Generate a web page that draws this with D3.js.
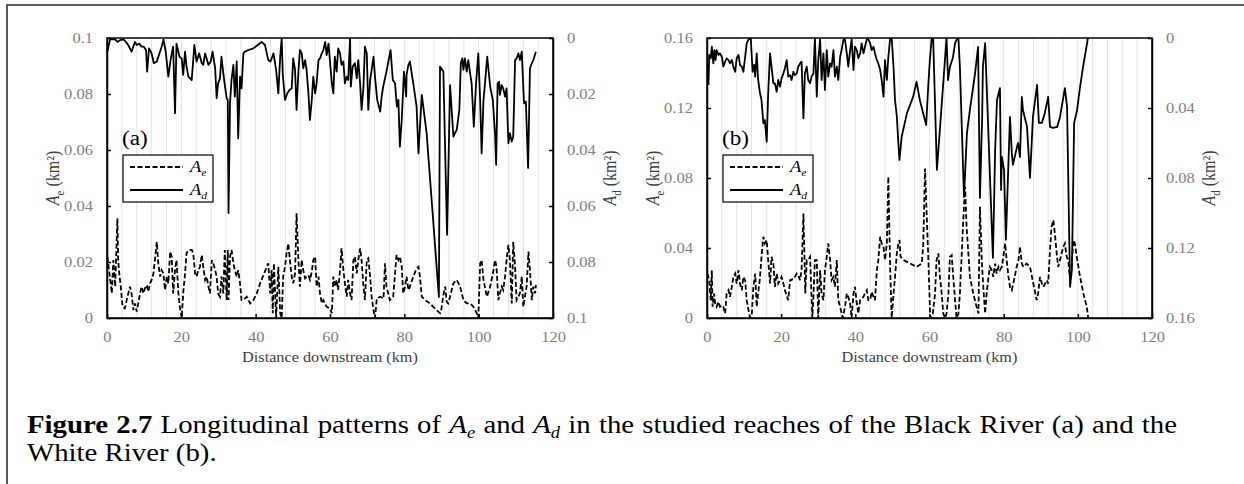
<!DOCTYPE html>
<html>
<head>
<meta charset="utf-8">
<script src="https://cdn.jsdelivr.net/npm/d3@7"></script>
<style>
  body { margin: 0; background: #fff; }
  svg { display: block; font-family: "Liberation Serif", "Times New Roman", serif; }
</style>
</head>
<body>
<svg id="fig" width="1244" height="484"></svg>
<script>
// Distance axis (km)
const distanceTicks = [0, 20, 40, 60, 80, 100, 120];

// Area axes (km²)
const blackTicks = [0, 0.02, 0.04, 0.06, 0.08, 0.1];
const blackTickLabels = ["0", "0.02", "0.04", "0.06", "0.08", "0.1"];
const whiteTicks = [0, 0.04, 0.08, 0.12, 0.16];
const whiteTickLabels = ["0", "0.04", "0.08", "0.12", "0.16"];

// Black River: [distance km, A_e km²]
const blackAe = [
  [0.1,.0219],[1.3,.0088],[1.7,.0207],[2.2,.0112],[2.8,.0356],[3.0,.0207],[3.3,.0159],[3.7,.0112],[4.2,.0040],[4.8,.0034],
  [5.5,.0076],[6.2,.0112],[6.6,.0088],[7.1,.0028],[7.5,.0052],[8.0,.0023],[8.4,.0052],[8.9,.0088],[9.3,.0112],[9.8,.0088],
  [10.2,.0106],[10.7,.0118],[11.1,.0094],[11.6,.0124],[12.0,.0136],[12.5,.0159],[12.9,.0207],[13.4,.0272],[13.8,.0195],[14.3,.0148],
  [14.7,.0171],[15.2,.0159],[15.6,.0100],[16.1,.0148],[16.5,.0124],[17.0,.0237],[17.4,.0219],[17.8,.0088],[18.3,.0171],[18.7,.0207],
  [19.2,.0088],[19.6,.0040],[20.1,0],[20.5,.0088],[21.0,.0159],[21.4,.0231],[21.9,.0243],[22.8,.0243],[23.2,.0231],[23.7,.0159],
  [24.1,.0148],[24.6,.0171],[25.0,.0183],[25.5,.0225],[25.9,.0183],[26.4,.0136],[26.8,.0148],[27.3,.0112],[27.7,.0088],[28.2,.0207],
  [28.6,.0195],[29.1,.0171],[29.5,.0148],[29.9,.0088],[30.4,.0076],[30.8,.0148],[31.3,.0088],[31.7,.0243],[32.2,.0064],[32.5,.0243],
  [32.7,.0064],[33.1,.0219],[33.5,.0243],[34.0,.0195],[34.4,.0171],[34.9,.0148],[35.3,.0171],[35.8,.0124],[36.2,.0064],[36.7,.0064],
  [37.6,.0076],[38.5,.0052],[39.4,.0064],[40.3,.0088],[41.2,.0124],[42.1,.0153],[43.0,.0183],[43.4,.0195],[43.9,.0088],[44.3,.0171],
  [44.6,.0017],[44.9,.0195],[45.5,0],[46.1,.0183],[46.6,.0017],[47.0,0],[47.4,.0148],[47.9,.0183],[48.3,.0231],[48.8,.0266],
  [49.2,.0207],[49.7,.0148],[50.1,.0124],[50.6,.0159],[51.0,.0374],[51.5,.0207],[51.9,.0112],[52.4,.0207],[52.8,.0171],[53.3,.0142],
  [53.7,.0148],[54.2,.0153],[54.6,.0136],[55.1,.0165],[55.5,.0207],[56.0,.0219],[56.4,.0112],[56.9,.0148],[57.3,.0088],[57.8,.0052],
  [58.2,.0064],[59.1,.0040],[60.0,.0034],[60.5,.0017],[60.9,.0148],[61.3,.0112],[61.8,.0136],[62.2,.0100],[62.7,.0171],[63.1,.0249],
  [63.6,.0171],[64.0,.0124],[64.5,.0076],[64.9,.0136],[65.4,.0088],[65.8,.0064],[66.3,.0207],[66.7,.0219],[67.2,.0159],[67.6,.0207],
  [68.1,.0249],[68.5,.0207],[69.0,.0112],[69.4,.0064],[69.9,.0207],[70.3,.0213],[70.8,.0148],[71.2,.0076],[71.7,.0028],[72.1,0],
  [72.6,.0070],[73.5,.0076],[74.4,.0070],[74.8,.0195],[75.2,.0112],[76.1,.0064],[77.0,.0076],[77.9,.0225],[78.4,.0207],[78.8,.0219],
  [79.3,.0183],[79.7,.0088],[80.2,.0112],[80.6,.0148],[81.1,.0100],[81.5,.0112],[82.4,.0148],[83.3,.0177],[83.8,.0183],[84.2,.0148],
  [84.7,.0076],[85.6,.0064],[86.9,.0052],[87.8,.0040],[88.7,.0028],[89.6,.0017],[90.0,.0034],[90.5,.0082],[91.0,.0112],[91.4,.0058],
  [91.8,.0052],[92.3,.0076],[93.2,.0124],[94.1,.0136],[95.0,.0112],[95.9,.0064],[96.8,.0052],[97.7,.0052],[98.6,.0040],[99.5,.0017],
  [99.9,0],[100.4,.0195],[100.8,.0207],[101.3,.0136],[102.2,.0076],[103.1,.0112],[104.0,.0171],[104.4,.0207],[104.8,.0183],[105.3,.0064],
  [105.7,.0088],[106.2,.0112],[106.6,.0100],[107.1,.0148],[107.5,.0207],[108.0,.0261],[108.4,.0207],[108.9,.0052],[109.3,.0272],[109.8,.0183],
  [110.2,.0064],[111.1,.0088],[111.6,.0148],[112.0,.0040],[112.9,.0112],[113.4,.0237],[113.8,.0171],[114.3,.0064],[114.7,.0112],[115.2,.0088],
  [115.4,.0118]
];

// Black River: [distance km, A_d km²]
const blackAd = [
  [0.1,.0049],[0.8,.0005],[2.2,.0005],[2.8,.0014],[3.5,.0008],[4.4,.0005],[5.1,.0014],[5.7,.0025],[6.6,.0049],[7.5,.0014],
  [8.0,.0025],[8.7,.0020],[9.3,.0031],[9.9,.0031],[10.5,.0043],[10.8,.0120],[11.3,.0037],[12.0,.0055],[12.6,.0090],[13.4,.0084],
  [14.1,.0055],[14.7,.0031],[15.2,.0005],[15.8,.0049],[16.5,.0138],[17.1,.0079],[17.8,.0031],[18.3,.0269],[18.7,.0020],[19.5,.0067],
  [20.1,.0073],[20.5,.0132],[21.0,.0049],[21.4,.0102],[21.9,.0138],[22.8,.0150],[23.5,.0025],[24.1,.0084],[24.8,.0055],[25.5,.0090],
  [25.9,.0096],[26.4,.0055],[26.8,.0073],[27.3,.0096],[27.9,.0084],[28.4,.0049],[29.1,.0108],[29.5,.0215],[29.9,.0162],[30.4,.0144],
  [30.8,.0067],[31.3,.0126],[31.7,.0168],[32.2,.0215],[32.5,.0221],[32.7,.0625],[33.1,.0233],[33.5,.0150],[34.0,.0096],[34.4,.0209],
  [34.9,.0084],[35.3,.0358],[35.8,.0138],[36.2,.0180],[36.7,.0055],[37.1,.0049],[38.0,.0043],[39.4,.0037],[41.6,.0014],[42.5,.0025],
  [43.4,.0079],[44.0,.0084],[44.8,.0055],[45.5,.0114],[46.1,.0198],[46.6,.0067],[47.0,0],[47.3,.0132],[47.9,.0221],[48.5,.0198],
  [49.1,.0186],[49.7,.0180],[50.1,.0073],[50.6,.0114],[51.0,.0257],[51.5,.0120],[51.9,.0043],[52.4,.0055],[52.8,.0108],[53.3,.0079],
  [53.7,.0114],[54.2,.0198],[54.6,.0293],[55.1,.0221],[55.5,.0138],[56.0,.0198],[56.4,.0162],[56.9,.0079],[57.3,.0073],[57.8,.0055],
  [58.2,.0043],[58.7,.0014],[59.1,.0061],[59.6,.0020],[60.0,.0084],[60.5,.0162],[60.9,.0198],[61.3,.0067],[61.8,.0120],[62.2,.0037],
  [62.7,.0055],[63.1,.0096],[63.6,.0084],[64.0,.0162],[64.5,.0138],[64.9,.0150],[65.4,0],[65.6,.0174],[66.1,.0102],[66.7,.0090],
  [67.2,.0144],[67.6,.0079],[68.1,.0162],[68.5,.0257],[69.0,.0174],[69.4,.0031],[69.9,.0055],[70.3,.0257],[70.8,.0150],[71.2,.0114],
  [71.7,.0067],[72.1,.0138],[72.7,.0221],[73.5,.0263],[73.9,.0209],[74.3,.0174],[75.1,.0126],[75.7,.0084],[76.3,.0043],[76.9,.0150],
  [77.5,.0162],[78.0,.0245],[78.4,.0221],[78.8,.0388],[79.3,.0293],[79.9,.0120],[80.5,.0209],[80.6,.0132],[81.1,.0096],[81.5,.0084],
  [82.4,.0162],[83.3,.0245],[83.8,.0412],[84.7,.0203],[86.0,.0340],[89.3,.0925],[89.6,.0102],[90.5,.0120],[91.5,.0703],[92.3,.0168],
  [93.2,.0352],[93.6,.0340],[94.1,.0328],[94.8,.0257],[95.2,.0090],[95.6,.0073],[95.9,.0114],[96.3,.0073],[96.8,.0120],[97.2,.0079],
  [97.7,.0126],[98.1,.0162],[98.7,.0317],[99.3,.0162],[99.9,.0055],[100.4,.0221],[100.8,.0412],[101.3,.0221],[101.7,.0162],[102.3,.0067],
  [103.1,.0174],[103.8,.0221],[104.4,.0340],[104.7,.0453],[105.1,.0162],[105.5,.0156],[105.7,.0203],[106.2,.0168],[106.6,.0180],[107.1,.0209],
  [107.5,.0180],[108.0,.0376],[108.4,.0340],[108.9,.0370],[109.3,.0352],[109.8,.0079],[110.2,.0073],[110.7,.0055],[111.1,.0079],[111.6,.0049],
  [112.2,.0233],[112.7,.0227],[113.3,.0464],[113.8,.0108],[114.3,.0090],[114.7,.0079],[115.4,.0049]
];

// White River: [distance km, A_e km²]
const whiteAe = [
  [0.1,.0254],[0.6,.0216],[1.0,.0102],[1.3,.0273],[1.5,.0064],[1.9,.0140],[2.2,.0083],[2.6,.0064],[3.1,.0092],[3.5,.0064],
  [4.0,.0073],[4.4,.0064],[4.9,.0026],[5.3,.0140],[5.8,.0159],[6.2,.0121],[6.7,.0178],[7.1,.0235],[7.6,.0254],[8.0,.0197],
  [8.5,.0273],[8.9,.0197],[9.4,.0159],[9.8,.0235],[10.3,.0216],[10.7,.0102],[11.2,.0045],[11.6,0],[12.1,.0026],[12.5,.0178],
  [13.0,.0254],[13.4,.0064],[13.8,.0140],[14.3,.0235],[14.7,.0350],[15.2,.0464],[15.6,.0426],[16.1,.0445],[16.5,.0331],[17.0,.0197],
  [17.4,.0350],[17.9,.0311],[18.3,.0178],[18.8,.0254],[19.2,.0197],[19.7,.0216],[20.1,.0235],[20.6,.0197],[21.0,.0159],[21.9,.0102],
  [22.4,.0216],[22.8,.0216],[23.3,.0235],[23.7,.0235],[24.2,.0254],[24.6,.0245],[25.1,.0216],[25.5,.0273],[26.0,.0597],[26.3,.0331],
  [26.5,.0140],[26.9,.0331],[27.3,.0331],[27.8,.0350],[28.4,0],[28.7,.0121],[29.1,.0331],[29.6,.0331],[30.0,0],[30.5,.0273],
  [30.9,.0140],[31.4,.0102],[31.8,.0273],[32.3,.0350],[32.7,.0426],[33.2,.0331],[33.6,.0216],[34.1,.0235],[34.5,.0178],[35.0,.0331],
  [35.4,.0102],[35.9,.0064],[36.6,0],[37.2,.0064],[37.7,.0140],[38.1,.0121],[38.6,.0083],[39.0,0],[39.5,.0140],[39.9,.0178],
  [40.4,.0083],[40.8,.0026],[41.3,.0102],[42.2,.0121],[42.6,.0140],[43.1,.0159],[43.5,.0102],[44.0,.0102],[44.4,.0149],[44.9,.0121],
  [45.3,.0102],[45.8,.0273],[46.2,.0331],[46.7,.0464],[47.1,.0426],[47.6,.0407],[48.0,.0331],[48.5,.0426],[48.9,.0807],[49.4,.0273],
  [49.8,0],[50.3,.0140],[50.7,.0235],[51.2,.0369],[51.6,.0426],[51.9,.0445],[52.2,.0350],[53.0,.0331],[54.8,.0311],[56.5,.0292],
  [57.9,.0311],[58.3,.0407],[58.8,.0854],[59.2,.0616],[59.7,.0331],[60.2,0],[60.9,.0026],[61.5,.0140],[61.9,.0331],[62.4,.0369],
  [62.8,.0235],[63.3,.0140],[63.7,.0026],[64.2,0],[64.6,.0026],[65.1,.0140],[65.5,.0350],[66.0,.0359],[66.4,.0235],[66.9,.0102],
  [67.3,0],[67.8,.0026],[68.2,.0140],[68.7,.0369],[69.1,.0559],[69.6,.0750],[70.0,.0521],[70.9,.0235],[71.8,.0140],[72.7,.0064],
  [73.2,.0026],[73.6,.0635],[74.1,.0331],[74.5,.0178],[75.0,.0026],[75.4,.0140],[75.9,.0235],[76.3,.0292],[76.8,.0273],[77.2,.0235],
  [77.7,.0311],[78.1,.0254],[78.6,.0292],[79.0,.0273],[79.5,.0292],[79.9,.0350],[80.4,.0426],[80.8,.0331],[81.3,.0235],[81.7,.0178],
  [82.2,.0159],[82.6,.0197],[83.5,.0292],[84.0,.0331],[84.4,.0407],[84.9,.0311],[85.3,.0292],[86.2,.0311],[87.1,.0292],[88.0,.0197],
  [88.9,.0102],[89.3,.0140],[89.8,.0235],[90.3,.0197],[90.7,.0178],[91.6,.0216],[92.0,.0197],[92.5,.0388],[92.9,.0521],[93.4,.0559],
  [93.8,.0483],[94.3,.0369],[94.7,.0292],[95.2,.0331],[95.6,.0369],[96.1,.0407],[96.5,.0426],[97.0,.0350],[97.4,.0331],[97.9,.0216],
  [98.3,.0292],[98.8,.0445],[99.2,.0426],[99.7,.0350],[100.6,.0235],[101.5,.0140],[102.4,.0064],[102.8,0]
];

// White River: [distance km, A_d km²]
const whiteAd = [
  [0.4,.0269],[0.6,.0097],[1.0,.0116],[1.3,.0050],[1.7,.0145],[2.0,.0069],[2.3,.0126],[2.6,.0069],[3.1,.0097],[3.5,.0088],
  [4.0,.0107],[4.4,.0164],[4.9,.0135],[5.3,.0116],[5.8,.0126],[6.2,.0145],[6.7,.0126],[7.1,.0164],[7.6,.0193],[8.0,.0116],
  [8.5,.0097],[8.9,.0154],[9.4,.0164],[9.8,.0193],[10.3,.0107],[10.7,.0031],[11.2,.0008],[11.8,0],[12.3,.0193],[12.7,.0154],
  [13.0,.0221],[13.4,.0088],[13.8,.0240],[14.3,.0316],[14.7,.0355],[15.2,.0488],[15.6,.0469],[16.1,.0593],[16.5,.0316],[17.0,.0088],
  [17.4,.0164],[17.9,.0259],[18.3,.0259],[18.8,.0307],[19.2,.0240],[19.7,.0278],[20.1,.0231],[20.6,.0202],[21.0,.0174],[21.5,.0126],
  [21.9,.0221],[22.4,.0212],[22.8,.0240],[23.3,.0193],[23.7,.0212],[24.2,.0202],[24.6,.0164],[25.1,.0145],[25.5,.0135],[26.0,.0459],
  [26.4,.0202],[26.9,.0164],[27.3,.0240],[27.8,.0259],[28.2,.0221],[28.7,.0202],[29.1,0],[29.6,.0335],[30.0,.0126],[30.5,.0008],
  [30.9,.0240],[31.4,.0088],[31.8,.0297],[32.3,.0069],[32.7,.0221],[33.2,.0145],[33.6,.0164],[34.1,.0069],[34.5,.0221],[35.0,.0164],
  [35.4,.0240],[35.9,.0107],[36.3,.0069],[36.8,.0008],[37.2,.0008],[37.7,.0088],[38.1,.0164],[38.6,.0069],[39.0,.0008],[39.5,.0183],
  [39.9,.0050],[40.4,.0069],[40.8,.0116],[41.3,.0088],[41.7,.0031],[42.2,.0088],[42.6,.0050],[43.1,.0008],[43.5,.0008],[44.0,.0031],
  [44.4,.0069],[44.9,.0050],[45.3,.0088],[45.8,.0126],[46.2,.0145],[46.7,.0183],[47.1,.0240],[47.6,.0335],[48.0,.0126],[48.5,.0240],
  [48.9,.0107],[49.4,0],[49.8,0],[50.3,.0164],[50.7,.0355],[51.2,.0450],[51.6,.0602],[51.9,.0697],[52.5,.0564],[53.9,.0431],
  [55.6,.0335],[56.5,.0250],[57.4,.0355],[58.3,.0431],[59.1,.0497],[59.7,.0259],[60.1,.0126],[60.6,0],[61.0,.0008],[62.0,.0754],
  [64.6,0],[65.0,.0240],[65.5,.0166],[66.3,.0114],[66.9,.0029],[67.4,.0006],[67.8,.0006],[68.2,.0166],[69.3,.0908],[70.1,.0542],
  [70.9,.0411],[72.3,.0200],[73.1,.0051],[73.6,.0914],[74.2,.0451],[74.4,.0166],[75.0,.0029],[77.1,.1256],[77.7,.0640],[78.2,.0354],
  [79.0,.0286],[79.3,.0868],[79.5,.0680],[80.1,.0754],[80.6,.1153],[81.7,.0451],[82.2,.0657],[82.5,.0725],[83.6,.0622],[83.9,.0600],
  [84.4,.0680],[84.9,.0337],[85.2,.0411],[86.3,.0508],[87.1,.0799],[87.9,.0451],[89.0,.0268],[89.5,.0485],[90.3,.0485],[91.1,.0428],
  [92.0,.0337],[92.5,.0508],[93.3,.0514],[94.4,.0508],[95.2,.0451],[96.5,.0286],[97.1,.0394],[97.9,.1422],[98.4,.1325],[99.0,.0485],
  [99.8,.0411],[100.6,.0280],[101.4,.0166],[102.5,.0029],[102.7,0]
];

// the figure's lettering is set slightly wide
const WIDE = 1.16;

const svg = d3.select("#fig");

// stretch text horizontally about its own x anchor
function widen(sel, s = WIDE) {
  sel.each(function () {
    const t = d3.select(this);
    const x = +(t.attr("x") || 0);
    t.attr("transform", `translate(${x * (1 - s)},0) scale(${s},1)`);
  });
}

// outer figure frame (open to the right and bottom)
svg.append("path")
  .attr("d", "M7,490 V5 H1260")
  .attr("fill", "none")
  .attr("stroke", "#5a5a5a")
  .attr("stroke-width", 2);

function areaTitle(sel, sub) {
  sel.append("tspan").attr("font-style", "italic").text("A");
  sel.append("tspan").attr("font-size", "11px").attr("dy", 4).text(sub);
  sel.append("tspan").attr("dy", -4).text(" (km²)");
}

function drawPanel(o) {
  const top = 38, bottom = 318;
  const g = svg.append("g");
  const x = d3.scaleLinear().domain([0, 120]).range([o.left, o.right]);
  const yE = d3.scaleLinear().domain([0, o.max]).range([bottom, top]);
  const yD = d3.scaleLinear().domain([0, o.max]).range([top, bottom]);

  // light vertical guides every 4 km
  g.append("g").selectAll("line")
    .data(d3.range(4, 120, 4))
    .join("line")
    .attr("x1", d => x(d)).attr("x2", d => x(d))
    .attr("y1", top).attr("y2", bottom)
    .attr("stroke", "#e4e4e4").attr("stroke-width", 1);

  const clipId = "clip-" + o.id;
  svg.append("clipPath").attr("id", clipId)
    .append("rect").attr("x", o.left).attr("y", top)
    .attr("width", o.right - o.left).attr("height", bottom - top);

  const lineE = d3.line().x(d => x(d[0])).y(d => yE(d[1]));
  const lineD = d3.line().x(d => x(d[0])).y(d => yD(d[1]));

  g.append("path").datum(o.ae)
    .attr("clip-path", `url(#${clipId})`)
    .attr("d", lineE).attr("fill", "none")
    .attr("stroke", "#000").attr("stroke-width", 1.8)
    .attr("stroke-dasharray", "5,2.5");

  g.append("path").datum(o.ad)
    .attr("clip-path", `url(#${clipId})`)
    .attr("d", lineD).attr("fill", "none")
    .attr("stroke", "#000").attr("stroke-width", 1.8)
    .attr("stroke-linejoin", "round");

  // plot box
  g.append("rect")
    .attr("x", o.left).attr("y", top)
    .attr("width", o.right - o.left).attr("height", bottom - top)
    .attr("fill", "none").attr("stroke", "#000").attr("stroke-width", 1.5);

  const styleAxis = a => {
    a.select(".domain").attr("stroke", "#000").attr("stroke-width", 1.5);
    a.selectAll(".tick line").attr("stroke", "#000").attr("stroke-width", 1.5);
    a.selectAll(".tick text")
      .attr("fill", "#808080")
      .attr("font-size", "14px")
      .attr("font-family", "'Liberation Serif', 'Times New Roman', serif")
      .call(widen, 1.18);
  };

  g.append("g").attr("transform", `translate(${o.left},0)`)
    .call(d3.axisLeft(yE).tickValues(o.ticks).tickFormat((d, i) => o.labels[i])
      .tickSizeInner(-4).tickSizeOuter(0).tickPadding(14))
    .call(styleAxis);

  g.append("g").attr("transform", `translate(${o.right},0)`)
    .call(d3.axisRight(yD).tickValues(o.ticks).tickFormat((d, i) => o.labels[i])
      .tickSizeInner(-4).tickSizeOuter(0).tickPadding(14))
    .call(styleAxis);

  g.append("g").attr("transform", `translate(0,${bottom})`)
    .call(d3.axisBottom(x).tickValues(distanceTicks).tickFormat(d3.format("d"))
      .tickSizeInner(-4).tickSizeOuter(0).tickPadding(14))
    .call(styleAxis);

  // axis titles
  g.append("text")
    .attr("x", (o.left + o.right) / 2).attr("y", 362)
    .attr("text-anchor", "middle").attr("font-size", "14px").attr("fill", "#404040")
    .text("Distance downstream (km)")
    .call(widen);

  g.append("text")
    .attr("transform", `translate(${o.left - 48},${(top + bottom) / 2}) scale(${WIDE},1) rotate(-90)`)
    .attr("text-anchor", "middle").attr("font-size", "16px").attr("fill", "#404040")
    .call(areaTitle, "e");

  g.append("text")
    .attr("transform", `translate(${o.right + 63},${(top + bottom) / 2}) scale(${WIDE},1) rotate(-90)`)
    .attr("text-anchor", "middle").attr("font-size", "16px").attr("fill", "#404040")
    .call(areaTitle, "d");

  // panel tag
  g.append("text")
    .attr("x", o.left + 15).attr("y", 145)
    .attr("font-size", "20px").attr("fill", "#000")
    .text(o.tag)
    .call(widen);

  // legend
  const lx = o.left + 16, ly = 155;
  const lg = g.append("g");
  lg.append("rect").attr("x", lx).attr("y", ly).attr("width", 90).attr("height", 47)
    .attr("fill", "#fff").attr("stroke", "#000").attr("stroke-width", 1.2);
  lg.append("line").attr("x1", lx + 7).attr("x2", lx + 60).attr("y1", ly + 12).attr("y2", ly + 12)
    .attr("stroke", "#000").attr("stroke-width", 1.8).attr("stroke-dasharray", "5,2.5");
  lg.append("line").attr("x1", lx + 7).attr("x2", lx + 60).attr("y1", ly + 35).attr("y2", ly + 35)
    .attr("stroke", "#000").attr("stroke-width", 1.8);
  [["e", 17], ["d", 40]].forEach(([sub, dy]) => {
    const t = lg.append("text").attr("x", lx + 67).attr("y", ly + dy).attr("font-size", "16px");
    t.append("tspan").attr("font-style", "italic").text("A");
    t.append("tspan").attr("font-style", "italic").attr("font-size", "10px").attr("dy", 4).text(sub);
    t.call(widen);
  });
}

drawPanel({ id: "black", left: 107, right: 553, max: 0.1, ticks: blackTicks, labels: blackTickLabels,
  ae: blackAe, ad: blackAd, tag: "(a)" });
drawPanel({ id: "white", left: 707, right: 1152, max: 0.16, ticks: whiteTicks, labels: whiteTickLabels,
  ae: whiteAe, ad: whiteAd, tag: "(b)" });

// caption: justified first line, wide lettering
const capX = 27, capRight = 1177, capScale = 1.153;
const capG = svg.append("g").attr("transform", `translate(${capX},0) scale(${capScale},1)`);
const cap = capG.append("text").attr("x", 0).attr("y", 433).attr("font-size", "25px").attr("fill", "#000");
cap.append("tspan").attr("font-weight", "bold").text("Figure 2.7");
cap.append("tspan").text(" Longitudinal patterns of ");
cap.append("tspan").attr("font-style", "italic").text("A");
cap.append("tspan").attr("font-style", "italic").attr("font-size", "16px").attr("dy", 5).text("e");
cap.append("tspan").attr("dy", -5).text(" and ");
cap.append("tspan").attr("font-style", "italic").text("A");
cap.append("tspan").attr("font-style", "italic").attr("font-size", "16px").attr("dy", 5).text("d");
cap.append("tspan").attr("dy", -5).text(" in the studied reaches of the Black River (a) and the");

const capNode = cap.node();
const natural = capNode.getComputedTextLength();
const gaps = (capNode.textContent.match(/ /g) || []).length;
const extra = ((capRight - capX) / capScale - natural) / gaps;
if (extra > 0) cap.attr("word-spacing", extra);

capG.append("text").attr("x", 0).attr("y", 461).attr("font-size", "25px").attr("fill", "#000")
  .text("White River (b).");
</script>
</body>
</html>
